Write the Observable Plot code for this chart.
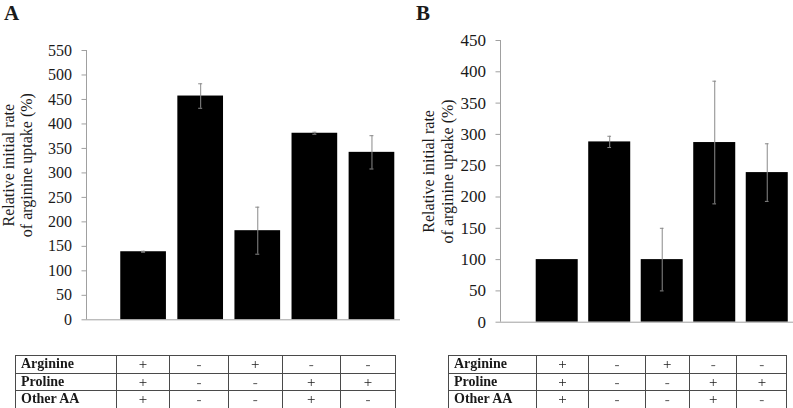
<!DOCTYPE html>
<html><head><meta charset="utf-8">
<script src="https://cdn.jsdelivr.net/npm/d3@7"></script>
<script src="https://cdn.jsdelivr.net/npm/@observablehq/plot@0.6"></script>
<style>
html,body{margin:0;padding:0;background:#fff;overflow:hidden}
#wrap{position:relative;width:793px;height:408px;font-family:"Liberation Serif","Times New Roman",serif;color:#1a1a1a}
.panel{position:absolute;top:0}
.tag{position:absolute;font-weight:bold;font-size:21px;line-height:1}
table{position:absolute;border-collapse:collapse;table-layout:fixed;font-size:14px;will-change:transform;opacity:0.999;background:#fff}
td{border:1px solid #4a4a4a;padding:0;height:16.5px;text-align:center;line-height:14px;overflow:hidden;white-space:nowrap;font-size:15px}
td.lab{text-align:left;font-weight:bold;padding-left:5px;font-size:14px}
td.minus{color:#666}
</style></head><body><div id="wrap"></div>
<script>
// ---- data ----
const conditions = ["c1", "c2", "c3", "c4", "c5"];
const valuesA = [139, 457, 182, 381, 342];
const errorsA = [1, 25, 48, 2, 34];
const valuesB = [100, 288, 100, 287, 239];
const errorsB = [0, 9, 50, 98, 46];
const ticksA = [0, 50, 100, 150, 200, 250, 300, 350, 400, 450, 500, 550];
const ticksB = [0, 50, 100, 150, 200, 250, 300, 350, 400, 450];
const yTitle = ["Relative initial rate", "of arginine uptake (%)"];
const rowLabels = ["Arginine", "Proline", "Other AA"];
const arginine = ["+", "-", "+", "-", "-"];
const proline = ["+", "-", "-", "+", "+"];
const otherAA = ["+", "-", "-", "+", "-"];
const panelTags = ["A", "B"];

const wrap = document.getElementById("wrap");

function chart({values, errors, ticks, width, height, marginLeft, marginTop, marginBottom, xDomain, tickFont, titleDx, titleDy, lineHeight}) {
  const data = conditions.map((c, i) => ({c, pos: i + 1, v: values[i], lo: values[i] - errors[i], hi: values[i] + errors[i]}));
  const ymax = ticks[ticks.length - 1];
  const capHalf = 0.035;
  const withErr = data.filter(d => d.hi > d.lo);
  return Plot.plot({
    width, height, marginLeft, marginRight: 0, marginTop, marginBottom,
    style: {fontFamily: "'Liberation Serif', 'Times New Roman', serif", fontSize: tickFont + "px", background: "transparent", overflow: "visible"},
    x: {domain: xDomain, axis: null},
    y: {domain: [0, ymax], axis: null},
    marks: [
      Plot.rectY(data, {x1: d => d.pos - 0.4, x2: d => d.pos + 0.4, y: "v", fill: "black"}),
      Plot.ruleY([0], {stroke: "#a0a0a0"}),
      Plot.ruleX([xDomain[0]], {y1: 0, y2: ymax, stroke: "#a0a0a0"}),
      Plot.ruleX(withErr, {x: "pos", y1: "lo", y2: "hi", stroke: "#8a8a8a"}),
      Plot.ruleY(withErr, {y: "hi", x1: d => d.pos - capHalf, x2: d => d.pos + capHalf, stroke: "#8a8a8a"}),
      Plot.ruleY(withErr, {y: "lo", x1: d => d.pos - capHalf, x2: d => d.pos + capHalf, stroke: "#8a8a8a"}),
      Plot.axisY({ticks, tickSize: 4.5, tickPadding: 10, stroke: "#a0a0a0", fill: "#1a1a1a", label: null, fontSize: tickFont}),
      Plot.text([yTitle.join("\n")], {frameAnchor: "left", textAnchor: "middle", rotate: -90, dx: titleDx, dy: titleDy, fontSize: 16, lineHeight, fill: "#1a1a1a"})
    ]
  });
}

function addPanel(left, width, svg) {
  const div = document.createElement("div");
  div.className = "panel";
  div.style.left = left + "px";
  div.style.width = width + "px";
  div.appendChild(svg);
  wrap.appendChild(div);
}

function addTable(left, top, colWidths) {
  const t = document.createElement("table");
  t.style.left = left + "px";
  t.style.top = top + "px";
  const cg = document.createElement("colgroup");
  colWidths.forEach(w => { const c = document.createElement("col"); c.style.width = w + "px"; cg.appendChild(c); });
  t.appendChild(cg);
  const rows = [arginine, proline, otherAA];
  rows.forEach((r, i) => {
    const tr = document.createElement("tr");
    const th = document.createElement("td");
    th.className = "lab"; th.textContent = rowLabels[i]; tr.appendChild(th);
    r.forEach(s => { const td = document.createElement("td"); td.textContent = s; if (s === "-") td.className = "minus"; tr.appendChild(td); });
    t.appendChild(tr);
  });
  t.style.width = colWidths.reduce((a, b) => a + b, 0) + "px";
  wrap.appendChild(t);
}

function addTag(text, left, top) {
  const d = document.createElement("div");
  d.className = "tag"; d.textContent = text;
  d.style.left = left + "px"; d.style.top = top + "px";
  wrap.appendChild(d);
}

addPanel(0, 400, chart({values: valuesA, errors: errorsA, ticks: ticksA, width: 400, height: 335,
  marginLeft: 86, marginTop: 50, marginBottom: 15.7, xDomain: [0, 5.5], tickFont: 16, titleDx: -69.6, titleDy: -20, lineHeight: 1.13}));
addPanel(400, 393, chart({values: valuesB, errors: errorsB, ticks: ticksB, width: 393, height: 335,
  marginLeft: 100, marginTop: 40, marginBottom: 13.3, xDomain: [-0.08, 5.5], tickFont: 17, titleDx: -63.4, titleDy: -10, lineHeight: 1.22}));

addTable(15, 354.5, [100.7, 53.6, 58.4, 54, 58.3, 55]);
addTable(448.3, 354.5, [87.7, 52.7, 56.3, 44.3, 47.4, 50]);

addTag(panelTags[0], 4, 3);
addTag(panelTags[1], 416, 3);
</script></body></html>
